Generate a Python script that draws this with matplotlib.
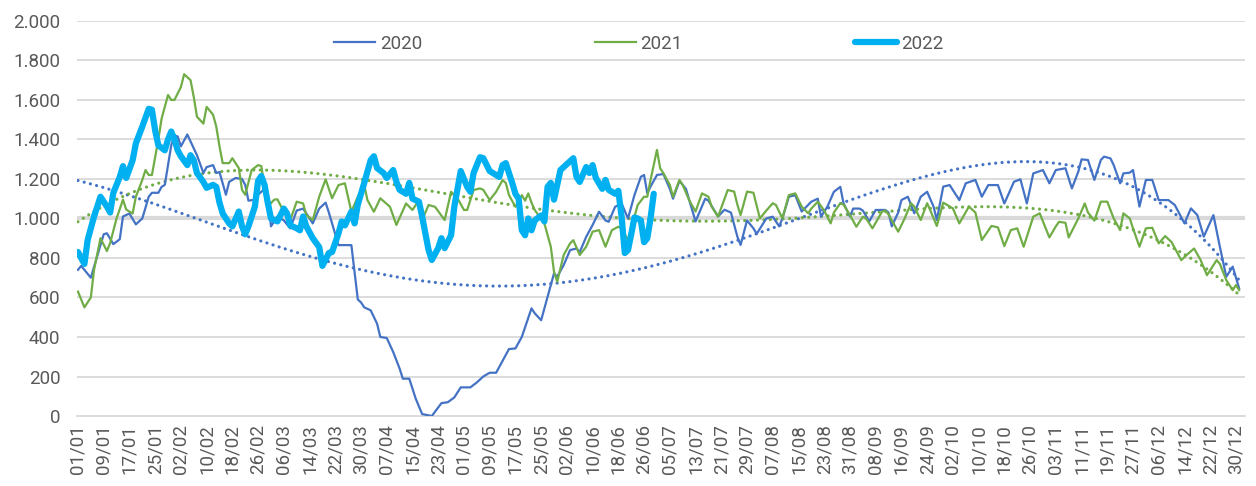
import numpy as np
import matplotlib.pyplot as plt
from matplotlib.ticker import FuncFormatter

# category labels shown on the x axis (every 8th category)
tick_labels = ["01/01", "09/01", "17/01", "25/01", "02/02", "10/02", "18/02", "26/02",
               "06/03", "14/03", "22/03", "30/03", "07/04", "15/04", "23/04", "01/05",
               "09/05", "17/05", "25/05", "02/06", "10/06", "18/06", "26/06", "05/07",
               "13/07", "21/07", "29/07", "07/08", "15/08", "23/08", "31/08", "08/09",
               "16/09", "24/09", "02/10", "10/10", "18/10", "26/10", "03/11", "11/11",
               "19/11", "27/11", "06/12", "14/12", "22/12", "30/12"]

# 2020: (category index, value)
days_2020 = [0, 1, 4, 6, 8, 9, 11, 13, 14, 16, 18, 20, 22, 23, 25, 26, 27, 29, 30, 31,
             32, 34, 36, 37, 39, 40, 42, 43, 44, 46, 47, 49, 51, 52, 53, 55, 56, 58, 59, 60,
             62, 64, 66, 68, 70, 72, 73, 75, 77, 78, 80, 81, 85, 87, 88, 89, 91, 93, 94, 96,
             98, 100, 101, 103, 105, 107, 110, 112, 113, 115, 117, 119, 122, 124, 126, 128, 130, 131, 134, 136,
             138, 141, 142, 144, 146, 148, 149, 151, 153, 155, 156, 158, 160, 162, 164, 165, 167, 169, 171, 173,
             175, 176, 177, 178, 180, 182, 184, 185, 187, 189, 192, 195, 196, 199, 201, 203, 205, 206, 208, 210,
             211, 214, 216, 218, 219, 221, 223, 225, 228, 230, 231, 233, 235, 237, 238, 240, 241, 243, 244, 246,
             248, 251, 252, 253, 255, 256, 258, 260, 262, 264, 266, 267, 269, 271, 274, 276, 279, 281, 283, 286,
             288, 291, 293, 295, 297, 300, 302, 304, 307, 309, 311, 312, 314, 316, 318, 319, 321, 322, 324, 325,
             327, 328, 330, 332, 334, 336, 339, 341, 344, 346, 348, 350, 353, 355, 357, 359, 361]
vals_2020 = [740, 760, 700, 810, 920, 925, 870, 895, 1010, 1025, 970, 1000, 1110, 1130, 1130, 1160, 1170, 1370, 1420, 1415,
             1365, 1425, 1355, 1320, 1230, 1260, 1270, 1230, 1235, 1120, 1185, 1205, 1200, 1170, 1090, 1095, 1120, 1150, 1130, 960,
             1010, 990, 950, 1040, 1050, 1000, 975, 1050, 1080, 1030, 920, 865, 865, 590, 575, 550, 535, 467, 400, 395,
             324, 240, 189, 189, 88, 10, 0, 43, 65, 70, 94, 145, 145, 170, 200, 219, 219, 249, 339, 342,
             401, 545, 520, 485, 604, 722, 705, 764, 840, 848, 830, 907, 967, 1034, 990, 983, 1059, 1076, 1000, 1118,
             1211, 1220, 1127, 1161, 1220, 1225, 1150, 1100, 1190, 1150, 985, 1100, 1090, 1010, 1044, 1030, 908, 866, 990, 950,
             922, 1000, 1009, 960, 1000, 1110, 1118, 1035, 1085, 1100, 1009, 1060, 1135, 1160, 1077, 1010, 1050, 1050, 1040, 985,
             1043, 1043, 1030, 960, 1030, 1093, 1110, 1026, 1110, 1135, 1060, 992, 1161, 1169, 1093, 1178, 1195, 1110, 1169, 1169,
             1076, 1186, 1198, 1076, 1228, 1245, 1178, 1245, 1254, 1152, 1237, 1299, 1296, 1195, 1296, 1313, 1304, 1270, 1178, 1228,
             1232, 1245, 1060, 1195, 1195, 1093, 1093, 1068, 975, 1051, 1017, 908, 1017, 857, 705, 756, 646]

# 2021
days_2021 = [0, 2, 4, 5, 7, 9, 10, 12, 14, 15, 17, 18, 20, 21, 22, 23, 25, 26, 28, 29,
             30, 32, 33, 35, 36, 37, 39, 40, 42, 43, 44, 45, 47, 48, 50, 51, 52, 54, 56, 57,
             58, 59, 61, 62, 64, 66, 68, 70, 71, 73, 75, 77, 79, 81, 83, 85, 87, 89, 90, 92,
             94, 97, 99, 102, 104, 106, 107, 109, 111, 114, 116, 118, 120, 121, 123, 125, 126, 128, 130, 132,
             133, 134, 136, 138, 139, 140, 141, 142, 145, 147, 148, 149, 151, 153, 154, 156, 158, 160, 162, 164,
             166, 168, 169, 171, 172, 174, 176, 177, 178, 180, 181, 182, 184, 185, 187, 188, 190, 192, 194, 196,
             197, 199, 202, 204, 205, 206, 208, 210, 212, 214, 216, 217, 219, 221, 223, 225, 227, 228, 230, 232,
             234, 235, 237, 238, 240, 242, 244, 245, 247, 250, 251, 252, 255, 257, 259, 260, 262, 264, 265, 267,
             269, 272, 274, 277, 279, 281, 284, 286, 288, 290, 292, 294, 297, 299, 302, 304, 305, 307, 308, 311,
             313, 314, 316, 318, 320, 322, 324, 325, 327, 328, 330, 332, 334, 336, 338, 340, 343, 345, 347, 349,
             351, 354, 355, 357, 359, 360, 361]
vals_2021 = [630, 550, 600, 740, 900, 835, 875, 1000, 1095, 1045, 1025, 1110, 1195, 1245, 1220, 1220, 1400, 1505, 1625, 1600,
             1600, 1665, 1730, 1700, 1615, 1515, 1480, 1565, 1525, 1465, 1365, 1280, 1280, 1305, 1255, 1145, 1120, 1245, 1270, 1265,
             1160, 1060, 1095, 1097, 1034, 992, 1085, 1076, 1017, 992, 1110, 1198, 1102, 1169, 1178, 1034, 1110, 1169, 1093, 1034,
             1102, 1059, 967, 1076, 1043, 1093, 992, 1068, 1059, 992, 1135, 1102, 1043, 1043, 1144, 1152, 1145, 1093, 1135, 1194,
             1180, 1118, 1059, 1118, 1090, 1127, 1080, 1043, 975, 857, 730, 680, 815, 874, 890, 815, 857, 933, 941, 857,
             941, 958, 950, 890, 950, 1068, 1110, 1110, 1194, 1347, 1254, 1229, 1170, 1110, 1195, 1170, 1093, 1035, 1127, 1110,
             1060, 1009, 1144, 1136, 1070, 1017, 1136, 1130, 1000, 1040, 1077, 1068, 1000, 1118, 1127, 1060, 1026, 1050, 1085, 1040,
             975, 1030, 1077, 1070, 1017, 958, 1009, 1000, 950, 1035, 1040, 1020, 933, 1000, 1077, 1060, 992, 1077, 1040, 962,
             1080, 1051, 975, 1060, 1030, 891, 962, 955, 860, 941, 950, 857, 1009, 1026, 904, 960, 983, 978, 904, 1000,
             1076, 1030, 989, 1085, 1085, 1000, 941, 1026, 1000, 950, 857, 950, 953, 874, 911, 880, 789, 820, 848, 790,
             713, 789, 770, 688, 637, 663, 637]

# 2022 (until end of June)
days_2022 = [0, 2, 3, 5, 7, 9, 10, 11, 13, 14, 15, 17, 18, 20, 22, 23, 24, 25, 27, 28,
             29, 30, 31, 32, 34, 35, 36, 37, 39, 40, 42, 43, 44, 45, 47, 48, 50, 51, 52, 53,
             55, 56, 57, 58, 59, 60, 62, 64, 65, 66, 68, 69, 70, 71, 73, 75, 76, 78, 79, 81,
             82, 83, 85, 86, 87, 89, 91, 92, 93, 95, 96, 98, 99, 100, 102, 103, 104, 106, 107, 108,
             109, 110, 112, 113, 114, 116, 117, 119, 121, 122, 123, 125, 126, 128, 130, 131, 132, 133, 135, 136,
             137, 138, 139, 140, 141, 142, 144, 145, 146, 147, 148, 150, 151, 153, 154, 155, 156, 158, 159, 160,
             161, 163, 164, 165, 167, 168, 169, 170, 171, 172, 173, 174, 175, 176, 177, 178, 179]
vals_2022 = [830, 770, 890, 1010, 1110, 1060, 1030, 1130, 1210, 1265, 1205, 1295, 1380, 1465, 1555, 1550, 1445, 1370, 1345, 1400,
             1440, 1400, 1345, 1315, 1270, 1320, 1295, 1230, 1185, 1155, 1170, 1160, 1080, 1025, 975, 960, 1035, 960, 920, 960,
             1060, 1190, 1215, 1170, 1080, 1000, 985, 1050, 1025, 965, 950, 940, 1010, 960, 900, 855, 760, 825, 830, 925,
             985, 965, 1035, 975, 1070, 1180, 1295, 1315, 1255, 1230, 1205, 1245, 1185, 1145, 1125, 1180, 1100, 1085, 1010, 925,
             840, 790, 850, 900, 850, 915, 1060, 1240, 1160, 1135, 1230, 1310, 1305, 1240, 1220, 1210, 1270, 1280, 1180, 1125,
             1100, 940, 915, 1000, 940, 990, 1015, 985, 1160, 1180, 1095, 1245, 1260, 1290, 1305, 1210, 1185, 1260, 1230, 1270,
             1205, 1150, 1195, 1145, 1125, 1140, 1010, 825, 840, 920, 1005, 1000, 990, 880, 900, 1000, 1125]

c2020 = "#4472C4"
c2021 = "#70AD47"
c2022 = "#00B0F0"
grid_c = "#D9D9D9"
txt_c = "#595959"

plt.rcParams['font.family'] = ['Roboto', 'DejaVu Sans']

fig = plt.figure(figsize=(12.56, 4.86), dpi=100)
ax = fig.add_axes([0.0613, 0.144, 0.9299, 0.813])

ax.plot(days_2020, vals_2020, color=c2020, lw=1.6, label="2020", zorder=3)
ax.plot(days_2021, vals_2021, color=c2021, lw=1.6, label="2021", zorder=3)
ax.plot(days_2022, vals_2022, color=c2022, lw=4.5, label="2022", zorder=4,
        solid_joinstyle='round', solid_capstyle='round')

# polynomial trendlines, as in the original spreadsheet chart
xx = np.arange(0, 362)
for d, v, c in [(days_2020, vals_2020, c2020), (days_2021, vals_2021, c2021)]:
    p = np.polynomial.Polynomial.fit(d, v, 4)
    ax.plot(xx, p(xx), color=c, lw=2.3, ls=(0, (0.01, 2.0)), dash_capstyle='round', zorder=2)

ax.set_xlim(-0.3, 362.8)
ax.set_ylim(0, 2000)
ax.set_yticks(np.arange(0, 2001, 200))
ax.yaxis.set_major_formatter(FuncFormatter(lambda v, _: f"{int(v):,}".replace(",", ".")))
ax.set_xticks(np.arange(len(tick_labels)) * 8)
ax.set_xticklabels(tick_labels, rotation=90)

for y in np.arange(200, 2001, 200):
    ax.axhline(y, color=grid_c, lw=3.0 if y == 1000 else 1.3, zorder=1)
for s in ["top", "right", "left"]:
    ax.spines[s].set_visible(False)
ax.spines["bottom"].set_color(grid_c)
ax.spines["bottom"].set_linewidth(1.3)
ax.tick_params(length=0, labelsize=13.5, colors=txt_c, pad=6)
ax.tick_params(axis='y', pad=12)

leg = ax.legend(loc="center", bbox_to_anchor=(0.481, 0.942), ncol=3, frameon=False,
                fontsize=13.5, handlelength=2.2, columnspacing=9.2, handletextpad=0.25)
for t in leg.get_texts():
    t.set_color(txt_c)

fig.savefig("out.png", dpi=100)
